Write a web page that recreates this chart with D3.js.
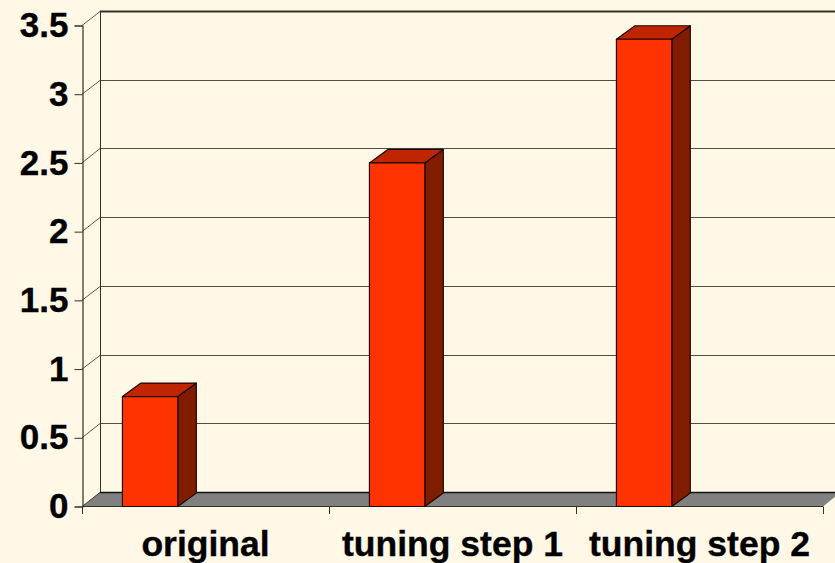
<!DOCTYPE html>
<html>
<head>
<meta charset="utf-8">
<style>
html, body { margin: 0; padding: 0; background: #fff8e6; overflow: hidden; }
svg { display: block; }
text { font-family: "Liberation Sans", Arial, sans-serif; font-weight: bold; fill: #000; stroke: #000; stroke-width: 0.35px; }
</style>
<script src="https://cdn.jsdelivr.net/npm/d3@7/dist/d3.min.js"></script>
</head>
<body>
<script>
// Chart data
const categories = ["original", "tuning step 1", "tuning step 2"];
const seriesNames = ["first", "second", "third"];
const seriesFirst = [0.8, 2.5, 3.4];
const yTicks = [0, 0.5, 1, 1.5, 2, 2.5, 3, 3.5];
const yTickLabels = ["0", "0.5", "1", "1.5", "2", "2.5", "3", "3.5"];

const width = 835, height = 563;
const depthX = 18, depthY = 14.5;
const barDepthX = 18.5, barDepthY = 13.5;

const svg = d3.select("body").append("svg")
  .attr("width", width).attr("height", height);

const x0 = d3.scaleBand().domain(categories).range([82, 823]);
// Only the first series has values; the other two keep their slots empty.
const x1 = d3.scaleBand().domain(seriesNames)
  .range([0, x0.bandwidth()]).paddingOuter(0.73).paddingInner(0);
const y = d3.scaleLinear().domain([0, 3.5]).range([506.5, 25.5]);

const axisColor = "#333026";

// Floor of the 3D plot area
const floor = [
  [x0.range()[0], y(0)],
  [x0.range()[0] + depthX, y(0) - depthY],
  [x0.range()[1] + depthX, y(0) - depthY],
  [x0.range()[1], y(0)]
];
svg.append("path")
  .attr("d", d3.line()(floor) + "Z")
  .attr("fill", "#808080");

// Back-wall gridlines with their diagonal connectors to the front axis
const grid = svg.append("g").attr("fill", "none").attr("stroke", axisColor);
yTicks.forEach(t => {
  const yy = Math.round(y(t) - depthY) + 0.5;
  grid.append("line")
    .attr("x1", x0.range()[0] + depthX).attr("x2", width)
    .attr("y1", yy).attr("y2", yy)
    .attr("stroke-width", t === 3.5 ? 2 : (t === 0 ? 1.6 : 1))
    .attr("stroke", t === 0 ? "#111" : axisColor)
    .attr("stroke-opacity", t === 0 || t === 3.5 ? 1 : 0.85);
  grid.append("line")
    .attr("x1", x0.range()[0]).attr("y1", y(t))
    .attr("x2", x0.range()[0] + depthX).attr("y2", yy)
    .attr("stroke-width", 0.8);
});

// Back-wall vertical edge and front y axis
grid.append("line")
  .attr("x1", 100.5).attr("x2", 100.5)
  .attr("y1", y(3.5) - depthY).attr("y2", y(0) - depthY);

const yAxis = d3.axisLeft(y)
  .tickValues(yTicks)
  .tickFormat((d, i) => yTickLabels[i])
  .tickSize(8)
  .tickPadding(6);
const yG = svg.append("g")
  .attr("transform", "translate(82.5,0)")
  .call(yAxis);
yG.select(".domain").attr("stroke", axisColor).attr("stroke-width", 1.2);
yG.selectAll(".tick line").attr("stroke", axisColor);
yG.selectAll("text")
  .style("font-family", '"Liberation Sans", Arial, sans-serif')
  .style("font-weight", "bold")
  .style("font-size", "35px")
  .attr("fill", "#000");

// Front x axis
const xTickPositions = [0, 1, 2, 3].map(i => x0.range()[0] + i * x0.step());
const xG = svg.append("g");
xG.append("line")
  .attr("x1", x0.range()[0]).attr("x2", x0.range()[1])
  .attr("y1", 506.5).attr("y2", 506.5)
  .attr("stroke", axisColor).attr("stroke-width", 1.2);
xG.selectAll(".xtick").data(xTickPositions).join("line")
  .attr("class", "xtick")
  .attr("x1", d => Math.round(d) + 0.5).attr("x2", d => Math.round(d) + 0.5)
  .attr("y1", 506.5).attr("y2", 514)
  .attr("stroke", axisColor);
xG.selectAll(".xlabel").data(categories).join("text")
  .attr("class", "xlabel")
  .attr("x", d => x0(d) + x0.bandwidth() / 2)
  .attr("y", 555.5)
  .attr("text-anchor", "middle")
  .style("font-size", "35.5px")
  .text(d => d);

// 3D columns: side face, top face, then front face
const bars = svg.append("g").attr("stroke", "#1f0700").attr("stroke-width", 1.2)
  .attr("stroke-linejoin", "round");
categories.forEach((c, i) => {
  const l = x0(c) + x1(seriesNames[0]);
  const r = l + x1.bandwidth();
  const t = y(seriesFirst[i]);
  const b = y(0);
  bars.append("path")
    .attr("fill", "#801c00")
    .attr("d", d3.line()([[r, t], [r + barDepthX, t - barDepthY], [r + barDepthX, b - barDepthY], [r, b]]) + "Z");
  bars.append("path")
    .attr("fill", "#bf2600")
    .attr("d", d3.line()([[l, t], [l + barDepthX, t - barDepthY], [r + barDepthX, t - barDepthY], [r, t]]) + "Z");
  bars.append("rect")
    .attr("x", l).attr("y", t)
    .attr("width", r - l).attr("height", b - t)
    .attr("fill", "#ff3300");
});
</script>
</body>
</html>
